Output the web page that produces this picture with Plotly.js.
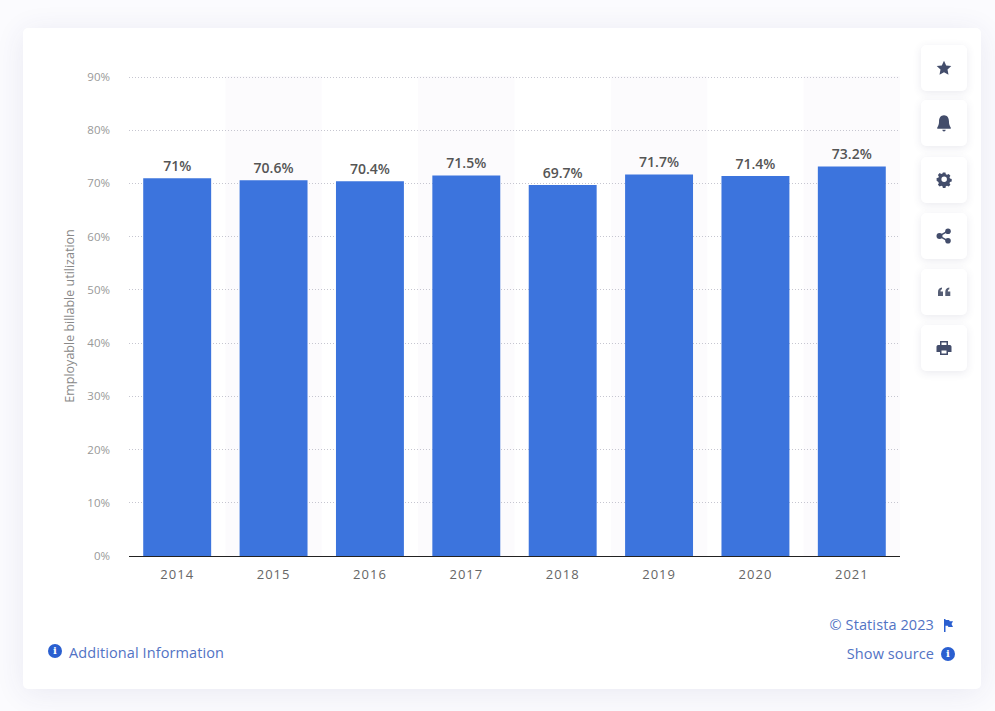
<!DOCTYPE html>
<html><head><meta charset="utf-8">
<script src="https://cdn.plot.ly/plotly-3.0.1.min.js"></script>
<style>
html,body{margin:0;padding:0;width:995px;height:711px;overflow:hidden;background:#fbfbfe;font-family:"Open Sans",sans-serif}
#card{position:absolute;left:23px;top:28px;width:958px;height:661px;background:#fff;border-radius:5px;box-shadow:0 4px 30px rgba(60,60,120,.09)}
#chart{position:absolute;left:0;top:0;width:995px;height:711px}
#chart .xtick text{letter-spacing:1px}
.btn{position:absolute;left:921px;width:46px;height:46px;background:#fff;border-radius:5px;box-shadow:0 2px 8px rgba(60,60,110,.11);display:flex;align-items:center;justify-content:center}
.btn svg{width:16px;height:16px;fill:#434d6b}
.lnk{position:absolute;color:#5273c4;font-size:14.5px;line-height:18px;white-space:nowrap;letter-spacing:.1px}
.i{position:absolute;width:14px;height:14px;border-radius:50%;background:#2a5fd0;color:#fff;font:bold 10px/14px "DejaVu Serif",serif;text-align:center}
</style></head><body>
<div id="card"></div>
<div id="chart"></div>
<div class="btn" style="top:45px"><svg viewBox="0 0 16 16"><path d="M8 .8l2.2 4.7 5.1.6-3.8 3.5 1 5.1L8 12.2l-4.5 2.5 1-5.1L.7 6.1l5.1-.6z"/></svg></div>
<div class="btn" style="top:100px"><svg viewBox="0 0 16 16" style="width:18px;height:18px"><path d="M8 1c3 0 4.400 2.500 4.400 5.500 0 2.500.6 4 1.600 5.500v1H2v-1c1-1.500 1.600-3 1.600-5.500C3.600 3.500 5 1 8 1zM6.500 14h3a1.500 1.500 0 0 1-3 0z"/></svg></div>
<div class="btn" style="top:157px"><svg viewBox="0 0 16 16"><path fill-rule="evenodd" d="M6.600 1h2.800l.4 2 1.300.6 1.800-1 1.900 2-1 1.700.5 1.300 1.900.5v2.800l-1.900.5-.5 1.300 1 1.700-1.900 2-1.800-1-1.300.5-.4 2H6.600l-.4-2-1.300-.5-1.800 1-1.900-2 1-1.700-.5-1.300L-.2 10V7.200l1.900-.5.500-1.300-1-1.700 1.900-2 1.800 1 1.300-.6zM8 5.500a3 3 0 1 0 0 6 3 3 0 0 0 0-6z" transform="translate(.8 -.5) scale(.92)"/></svg></div>
<div class="btn" style="top:213px"><svg viewBox="0 0 16 16"><circle cx="3.500" cy="8" r="3"/><circle cx="12" cy="3.200" r="2.800"/><circle cx="12" cy="12.800" r="2.800"/><path d="M3 7.200l8.500-4.800.8 1.400-8.500 4.800zM3.800 7.400l8.500 4.800-.8 1.400L3 8.800z"/></svg></div>
<div class="btn" style="top:269px"><svg viewBox="0 0 16 16" style="fill:#565e75"><path d="M2 12V8c0-2.500 1-4 4-4.500v1.700C5 5.500 4.500 6 4.500 7.500H7V12zM9.300 12V8c0-2.500 1-4 4-4.500v1.700c-1 .3-1.500.8-1.500 2.300h2.500V12z"/></svg></div>
<div class="btn" style="top:325px"><svg viewBox="0 0 16 16"><path fill-rule="evenodd" d="M4 1h8v4h2a2 2 0 0 1 1.500 1.500V12H12v3H4v-3H.5V6.500A2 2 0 0 1 2 5h2zM5.500 2.500V5h5V2.500zM5.500 10.500v3h5v-3z"/></svg></div>
<div class="i" style="left:48px;top:644px">i</div>
<div class="lnk" style="left:69px;top:644px">Additional Information</div>
<div class="lnk" style="right:61px;top:616px">© Statista 2023</div>
<svg style="position:absolute;left:943px;top:619px;width:11px;height:13px" viewBox="0 0 11 13"><path fill="#2a5fd0" d="M1 0h1.500v13H1zM2.500 1H6l.8 1.200H10L8.500 5 10 8H5.500l-.8-1.200H2.500z"/></svg>
<div class="lnk" style="right:61px;top:645px">Show source</div>
<div class="i" style="left:941px;top:647px">i</div>
<script>
const categories = ["2014","2015","2016","2017","2018","2019","2020","2021"];
const utilization = [71, 70.6, 70.4, 71.5, 69.7, 71.7, 71.4, 73.2];
const barLabels = ["71%","70.6%","70.4%","71.5%","69.7%","71.7%","71.4%","73.2%"];
const yTicks = [0,10,20,30,40,50,60,70,80,90];
const yTickLabels = ["0%","10%","20%","30%","40%","50%","60%","70%","80%","90%"];

const bands = categories.map((c,i)=>i).filter(i=>i%2===1).map(i=>({
  type:'rect', xref:'x', yref:'paper', x0:i-0.5, x1:i+0.5, y0:0, y1:1,
  fillcolor:'rgba(110,80,170,0.025)', line:{width:0}, layer:'below'
}));

Plotly.newPlot('chart',[{
  type:'bar', x:categories, y:utilization, width:0.705,
  marker:{color:'#3c74dd', line:{width:0}},
  text:barLabels, textposition:'outside', cliponaxis:false,
  textfont:{family:'"Open Sans",sans-serif', size:14, color:'#555', weight:600},
  hoverinfo:'skip'
}],{
  width:995, height:711,
  margin:{l:129,r:95,t:76,b:155,pad:0},
  paper_bgcolor:'rgba(0,0,0,0)', plot_bgcolor:'rgba(0,0,0,0)',
  showlegend:false, shapes:bands,
  xaxis:{type:'category', range:[-0.5,7.5], showgrid:false, ticks:'', showline:true,
    linecolor:'#222', linewidth:1, zeroline:false,
    tickfont:{family:'"Open Sans",sans-serif', size:13, color:'#666'}, ticklabelstandoff:6},
  yaxis:{range:[0,90.19], tickvals:yTicks, ticktext:yTickLabels, showline:false, zeroline:false,
    showgrid:true, gridcolor:'#c6c6d0', griddash:'1px,2px', gridwidth:1, ticks:'',
    tickfont:{family:'"Open Sans",sans-serif', size:11.5, color:'#999'}, ticklabelstandoff:18,
    title:{text:'Employable billable utilization', standoff:9,
      font:{family:'"Open Sans",sans-serif', size:12.5, color:'#888'}}}
},{displayModeBar:false,staticPlot:true});
</script>
</body></html>
